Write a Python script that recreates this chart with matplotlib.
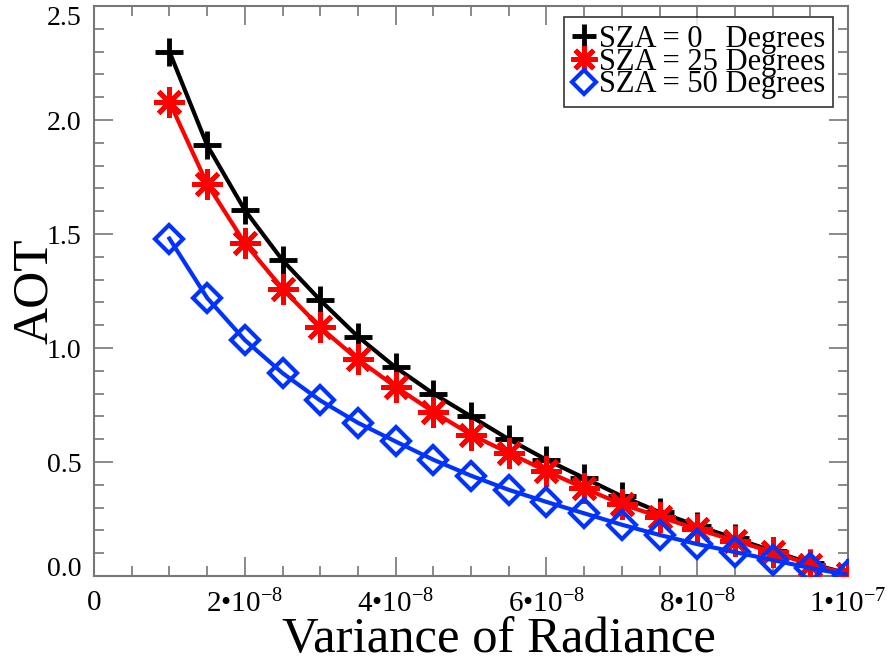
import matplotlib
matplotlib.use("Agg")
import matplotlib.pyplot as plt
from matplotlib.ticker import MultipleLocator, FuncFormatter

plt.rcParams['font.family'] = ['Liberation Serif', 'DejaVu Serif']
plt.rcParams['mathtext.fontset'] = 'custom'
plt.rcParams['mathtext.rm'] = 'Liberation Serif'
plt.rcParams['mathtext.it'] = 'Liberation Serif:italic'
plt.rcParams['mathtext.bf'] = 'Liberation Serif:bold'

variance = [1.0e-8, 1.5e-8, 2.0e-8, 2.5e-8, 3.0e-8, 3.5e-8, 4.0e-8, 4.5e-8, 5.0e-8,
            5.5e-8, 6.0e-8, 6.5e-8, 7.0e-8, 7.5e-8, 8.0e-8, 8.5e-8, 9.0e-8, 9.5e-8, 1.0e-7]
aot_sza0 = [2.30, 1.89, 1.605, 1.385, 1.21, 1.05, 0.915, 0.80, 0.70,
            0.60, 0.51, 0.43, 0.35, 0.28, 0.22, 0.165, 0.11, 0.055, 0.01]
aot_sza25 = [2.08, 1.72, 1.46, 1.26, 1.09, 0.95, 0.83, 0.72, 0.62,
             0.54, 0.46, 0.385, 0.315, 0.26, 0.205, 0.155, 0.105, 0.05, 0.01]
aot_sza50 = [1.48, 1.22, 1.035, 0.89, 0.77, 0.672, 0.59, 0.51, 0.44,
             0.378, 0.325, 0.275, 0.225, 0.18, 0.14, 0.105, 0.07, 0.035, 0.005]
labels = ["SZA = 0   Degrees", "SZA = 25 Degrees", "SZA = 50 Degrees"]

fig = plt.figure(figsize=(8.9, 6.62), dpi=100)
ax = fig.add_axes([94/890, 1-576/662, (848-94)/890, (576-6)/662])

ax.plot(variance, aot_sza0, color='black', lw=3, marker='+', ms=20, mew=3.5,
        label=labels[0], zorder=3)
ax.plot(variance, aot_sza25, color='#ff0000', lw=3, marker=(8, 2, 0), ms=22, mew=3.5,
        label=labels[1], zorder=3)
ax.plot(variance, aot_sza50, color='#0033ff', lw=3, marker='D', ms=14, mew=3,
        mfc='none', label=labels[2], zorder=3)

ax.set_xlim(0, 1e-7)
ax.set_ylim(0, 2.5)
ax.xaxis.set_major_locator(MultipleLocator(2e-8))
ax.xaxis.set_minor_locator(MultipleLocator(5e-9))
ax.yaxis.set_major_locator(MultipleLocator(0.5))
ax.yaxis.set_minor_locator(MultipleLocator(0.1))


def xfmt(v, pos):
    if abs(v) < 1e-12:
        return "0"
    if abs(v - 1e-7) < 1e-12:
        return r"1•10$^{-7}$"
    m = v / 1e-8
    return r"%d•10$^{-8}$" % round(m)


ax.xaxis.set_major_formatter(FuncFormatter(xfmt))
ax.yaxis.set_major_formatter(FuncFormatter(lambda v, p: "%.1f" % v))

spine_col = '#777777'
for s in ax.spines.values():
    s.set_color(spine_col)
    s.set_linewidth(1.5)
ax.tick_params(which='both', direction='in', top=True, right=True, colors=spine_col,
               labelcolor='black', width=1.2)
ax.tick_params(axis='x', which='major', labelsize=21, pad=10)
ax.tick_params(axis='y', which='major', labelsize=20, pad=9)
ax.tick_params(which='major', length=14)
ax.tick_params(which='minor', length=7)

fig.canvas.draw()
for t in ax.get_yticklabels():
    txt = t.get_text()
    if txt == "0.0":
        t.set_verticalalignment('baseline')
    elif txt == "2.5":
        t.set_verticalalignment('top')

ax.set_xlabel("Variance of Radiance", fontsize=36.5, va='baseline')
ax.xaxis.set_label_coords((499-94)/754, (576-652)/570)
ax.set_ylabel("AOT", fontsize=37, va='center')
ax.yaxis.set_label_coords((35-94)/754, (576-291)/570)

leg = ax.legend(loc='upper right', bbox_to_anchor=(833/890, 1-17/662),
                bbox_transform=fig.transFigure, fontsize=22, frameon=True,
                fancybox=False, edgecolor='black', handlelength=0.8,
                handletextpad=0.1, borderpad=0.25, labelspacing=-0.2,
                borderaxespad=0, markerscale=0.85)
leg.get_frame().set_linewidth(1.2)
for h in leg.get_lines():
    h.set_linestyle('none')

fig.savefig("out.png", dpi=100)
